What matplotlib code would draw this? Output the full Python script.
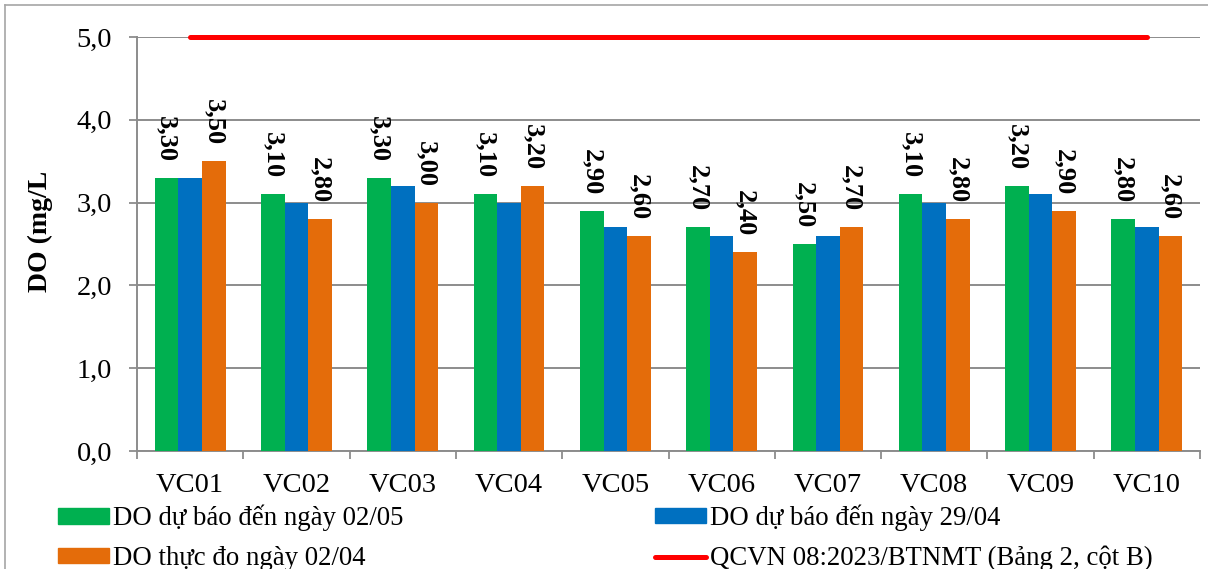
import numpy as np
import matplotlib
matplotlib.use("Agg")
import matplotlib.pyplot as plt
from matplotlib.patches import Patch
from matplotlib.lines import Line2D

categories = ["VC01", "VC02", "VC03", "VC04", "VC05", "VC06", "VC07", "VC08", "VC09", "VC10"]
do_forecast_0205 = [3.30, 3.10, 3.30, 3.10, 2.90, 2.70, 2.50, 3.10, 3.20, 2.80]
do_forecast_2904 = [3.30, 3.00, 3.20, 3.00, 2.70, 2.60, 2.60, 3.00, 3.10, 2.70]
do_measured_0204 = [3.50, 2.80, 3.00, 3.20, 2.60, 2.40, 2.70, 2.80, 2.90, 2.60]
qcvn_limit = [5.0] * len(categories)
yticks = [0.0, 1.0, 2.0, 3.0, 4.0, 5.0]

labels = ["DO dự báo đến ngày 02/05", "DO dự báo đến ngày 29/04",
          "DO thực đo ngày 02/04", "QCVN 08:2023/BTNMT (Bảng 2, cột B)"]
colors = ["#00B050", "#0070C0", "#E46C0A", "#FF0000"]

plt.rcParams['font.family'] = ['Liberation Serif', 'DejaVu Serif']

W, H = 1208, 569
fig = plt.figure(figsize=(W / 100, H / 100), dpi=100)
ax = fig.add_axes([137 / W, 1 - 451 / H, (1200 - 137) / W, (451 - 37) / H])

x = np.arange(len(categories))
bw = 0.222
b1 = ax.bar(x - bw, do_forecast_0205, bw, color=colors[0], zorder=3)
b2 = ax.bar(x, do_forecast_2904, bw, color=colors[1], zorder=3)
b3 = ax.bar(x + bw, do_measured_0204, bw, color=colors[2], zorder=3)
ax.plot(x, qcvn_limit, color=colors[3], lw=3.6, solid_capstyle='round', zorder=4, clip_on=False)

def fmt(v):
    return f"{v:.2f}".replace(".", ",")

for bars, vals in ((b1, do_forecast_0205), (b3, do_measured_0204)):
    for rect, v in zip(bars, vals):
        ax.annotate(fmt(v), (rect.get_x() + rect.get_width() / 2, v),
                    xytext=(0, 11.5), textcoords='offset points',
                    rotation=-90, ha='center', va='bottom',
                    fontsize=19, fontweight='bold', zorder=5)

ax.set_xlim(-0.5, len(categories) - 0.5)
ax.set_ylim(0, 5)
ax.set_yticks(yticks)
ax.set_yticklabels([f"{t:.1f}".replace(".", ",") for t in yticks], fontsize=20.5)
ax.tick_params(axis='y', length=6, width=1.3, color='#8C8C8C', pad=12)

ax.set_xticks(np.arange(-0.5, len(categories), 1.0))
ax.set_xticklabels([])
ax.set_xticks(x, minor=True)
ax.set_xticklabels(categories, minor=True, fontsize=20.5)
ax.tick_params(axis='x', which='major', length=6, width=1.3, color='#8C8C8C', direction='out')
ax.tick_params(axis='x', which='minor', length=0, pad=16)

ax.grid(axis='y', color='#8C8C8C', lw=1.4, zorder=0)
ax.set_axisbelow(True)
for s in ('top', 'right'):
    ax.spines[s].set_visible(False)
for s in ('left', 'bottom'):
    ax.spines[s].set_color('#8C8C8C')
    ax.spines[s].set_linewidth(1.4)

fig.text(40 / W, 1 - 231 / H, "DO (mg/L", rotation=90, ha='center', va='center',
         fontsize=20, fontweight='bold')

# outer frame (left & top)
fig.add_artist(Line2D([5 / W, 5 / W], [0, 1 - 5 / H], transform=fig.transFigure, color='#A6A6A6', lw=1.2))
fig.add_artist(Line2D([5 / W, 1], [1 - 5 / H, 1 - 5 / H], transform=fig.transFigure, color='#A6A6A6', lw=1.2))

h_green = Patch(color=colors[0])
h_blue = Patch(color=colors[1])
h_orange = Patch(color=colors[2])
h_red = Line2D([], [], color=colors[3], lw=3.6, solid_capstyle='round')

common = dict(frameon=False, fontsize=19.3, handlelength=1.9, handleheight=0.5,
              handletextpad=0.15, labelspacing=0.55, borderpad=0, borderaxespad=0,
              loc='center left')
fig.legend([h_green, h_orange], [labels[0], labels[2]],
           bbox_to_anchor=(58 / W, 1 - 538 / H), **common)
fig.legend([h_blue, h_red], [labels[1], labels[3]],
           bbox_to_anchor=(655 / W, 1 - 538 / H), **common)

fig.savefig("out.png", dpi=100)
